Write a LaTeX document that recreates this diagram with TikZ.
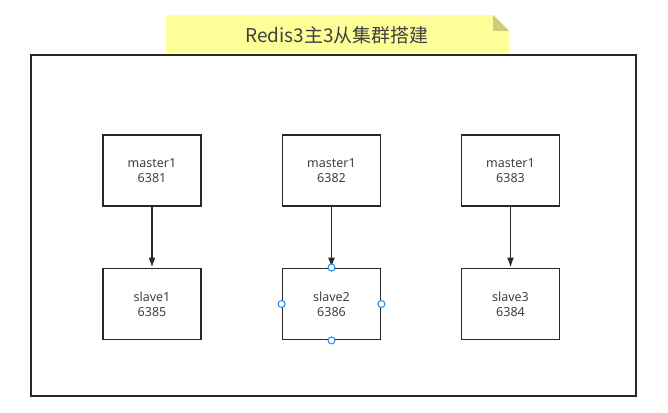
\documentclass[tikz,border=0pt]{standalone}
\usepackage{fontspec}
\setmainfont{Noto Sans}
\newfontfamily\cjk{Noto Sans CJK SC}
\usetikzlibrary{arrows.meta}
\definecolor{notefill}{RGB}{255,255,153}
\definecolor{notefold}{RGB}{204,204,122}
\definecolor{linec}{RGB}{40,40,40}
\definecolor{handlec}{RGB}{30,136,229}
\begin{document}
\begin{tikzpicture}[x=1pt,y=-1pt,
  box/.style={draw=linec,line width=1.8pt,minimum width=98pt,minimum height=71pt,inner sep=0pt,align=center,font=\fontsize{12.5}{15}\selectfont,text=black!75},
  conn/.style={draw=linec,line width=1.6pt,-{Latex[length=10pt,width=7pt]}},
  handle/.style={circle,draw=handlec,fill=white,line width=1pt,minimum size=7pt,inner sep=0pt}]
\useasboundingbox (0,0) rectangle (668,412);
% title note
\fill[notefill] (166,15) -- (493,15) -- (509,31) -- (509,53) -- (166,53) -- cycle;
\fill[notefold] (493,15) -- (509,31) -- (493,31) -- cycle;
\node[font=\cjk\fontsize{19}{22}\selectfont,text=black!75] (title) at (337,35) {Redis3主3从集群搭建};
% frame
\draw[draw=linec,line width=1.8pt] (31,55) rectangle (636,396);
% nodes
\node[box] (m1) at (152,170.5) {master1\\6381};
\node[box] (m2) at (331.5,170.5) {master1\\6382};
\node[box] (m3) at (510.5,170.5) {master1\\6383};
\node[box] (s1) at (152,304) {slave1\\6385};
\node[box] (s2) at (331.5,304) {slave2\\6386};
\node[box] (s3) at (510.5,304) {slave3\\6384};
\draw[conn] (m1) -- (s1);
\draw[conn] (m2) -- (s2);
\draw[conn] (m3) -- (s3);
\node[handle] (h1) at (s2.north) {};
\node[handle] (h2) at (s2.south) {};
\node[handle] (h3) at (s2.west) {};
\node[handle] (h4) at (s2.east) {};
\end{tikzpicture}
\end{document}
